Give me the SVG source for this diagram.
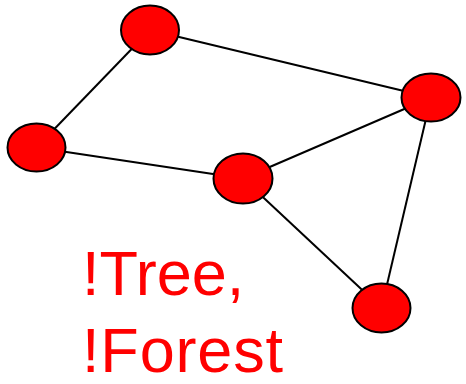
<svg xmlns="http://www.w3.org/2000/svg" width="466" height="384" viewBox="0 0 466 384">
  <style>
    .edge { stroke: #000; stroke-width: 2; fill: none; }
    .node { fill: #ff0000; stroke: #000; stroke-width: 2; }
    .label { font-family: "Liberation Sans", Arial, sans-serif; font-size: 63px; fill: #ff0000; }
  </style>
  <rect width="466" height="384" fill="#fff"/>
  <g id="edges">
    <line class="edge" x1="150" y1="30" x2="36.5" y2="147.5"/>
    <line class="edge" x1="150" y1="30" x2="431" y2="97.5"/>
    <line class="edge" x1="36.5" y1="147.5" x2="243" y2="178.5"/>
    <line class="edge" x1="243" y1="178.5" x2="431" y2="97.5"/>
    <line class="edge" x1="243" y1="178.5" x2="381.5" y2="308"/>
    <line class="edge" x1="431" y1="97.5" x2="381.5" y2="308"/>
  </g>
  <g id="node-a"><ellipse class="node" cx="150" cy="30" rx="29" ry="24.5"/></g>
  <g id="node-b"><ellipse class="node" cx="36.5" cy="147.5" rx="29" ry="24"/></g>
  <g id="node-c"><ellipse class="node" cx="243" cy="178.5" rx="29.5" ry="25"/></g>
  <g id="node-d"><ellipse class="node" cx="431" cy="97.5" rx="29.5" ry="24"/></g>
  <g id="node-e"><ellipse class="node" cx="381.5" cy="308" rx="29" ry="24.5"/></g>
  <g id="caption">
    <text class="label" x="82" y="295">!Tree,</text>
    <text class="label" x="82" y="372" textLength="201" lengthAdjust="spacing">!Forest</text>
  </g>
</svg>
